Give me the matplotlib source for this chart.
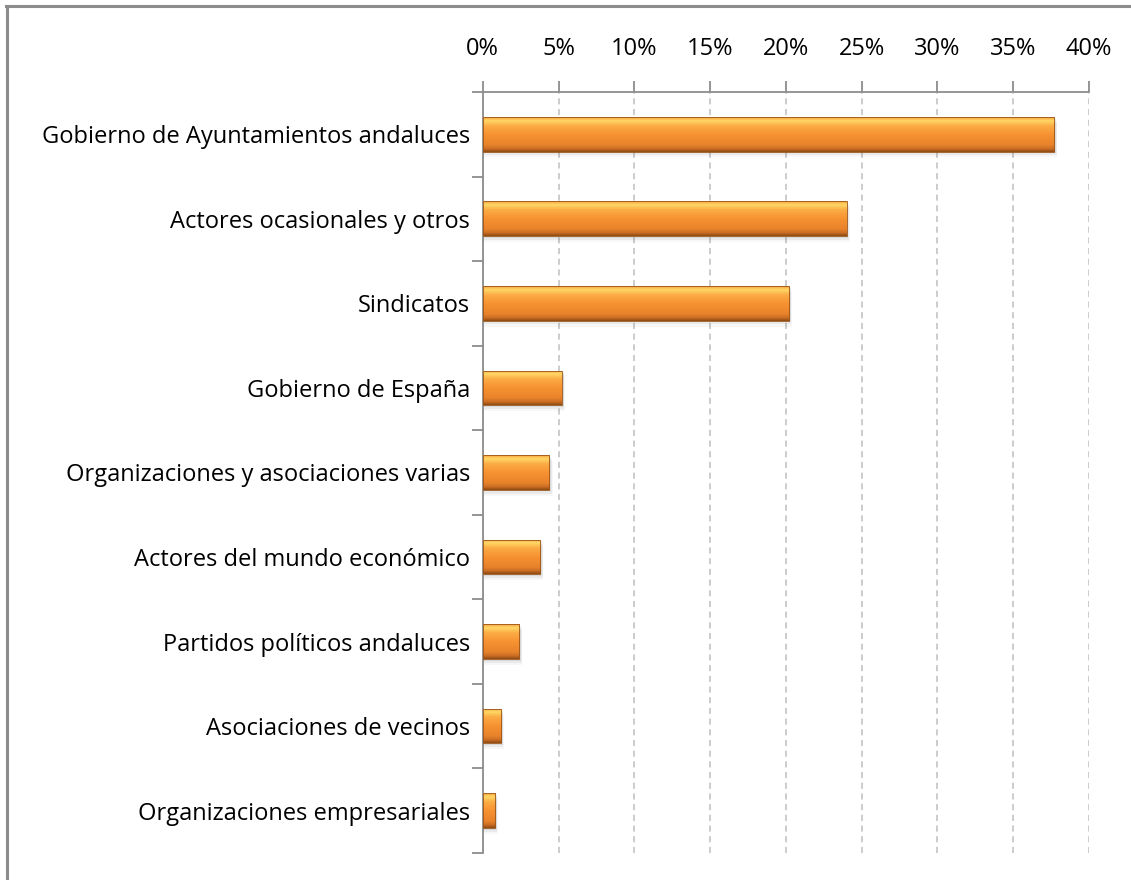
import matplotlib.pyplot as plt
import numpy as np
from matplotlib.colors import LinearSegmentedColormap
from matplotlib.lines import Line2D
from matplotlib.patches import Rectangle
from matplotlib.ticker import FuncFormatter, MultipleLocator

categories = [
    "Gobierno de Ayuntamientos andaluces",
    "Actores ocasionales y otros",
    "Sindicatos",
    "Gobierno de España",
    "Organizaciones y asociaciones varias",
    "Actores del mundo económico",
    "Partidos políticos andaluces",
    "Asociaciones de vecinos",
    "Organizaciones empresariales",
]
values = [37.7, 24.0, 20.2, 5.2, 4.4, 3.8, 2.4, 1.2, 0.8]

plt.rcParams["font.family"] = ["Open Sans", "DejaVu Sans"]

fig = plt.figure(figsize=(11.31, 8.80), dpi=100)
ax = fig.add_axes([0.4268, 0.0307, 0.5361, 0.8648])

# chart border: only the top and left edges show (picture is cropped)
fig.lines.append(Line2D([0.0062, 0.0062], [0.0, 0.9932], transform=fig.transFigure,
                        color="#8c8c8c", linewidth=2.2))
fig.lines.append(Line2D([0.0053, 1.0], [0.9932, 0.9932], transform=fig.transFigure,
                        color="#8c8c8c", linewidth=2.2))

n = len(categories)
y = np.arange(n)
height = 0.41

# vertical gradient imitating the bevelled orange bars
cmap = LinearSegmentedColormap.from_list(
    "bevel", [(0.0, "#f9a441"), (0.1, "#ffd866"), (0.25, "#fbab45"), (0.5, "#f79232"),
              (0.8, "#e8832b"), (0.92, "#c86b22"), (1.0, "#8f4c14")])
grad = np.linspace(0, 1, 80).reshape(-1, 1)

for yi, v in zip(y, values):
    # soft shadow below/right of the bar
    for k, a in enumerate([0.07, 0.05, 0.03]):
        d = 0.02 + 0.025 * k
        ax.add_patch(Rectangle((0.05, yi - height / 2 + d), v + 0.08 + 0.04 * k, height,
                               facecolor="#000000", alpha=a, edgecolor="none", zorder=2))
    bar = Rectangle((0, yi - height / 2), v, height, facecolor="none",
                    edgecolor="#9a5418", linewidth=0.6, zorder=4)
    ax.add_patch(bar)
    im = ax.imshow(grad, cmap=cmap, aspect="auto",
                   extent=(0, v, yi + height / 2, yi - height / 2), zorder=3)
    im.set_clip_path(bar)

ax.set_xlim(0, 40)
ax.set_ylim(n - 0.5, -0.5)
ax.xaxis.set_major_locator(MultipleLocator(5))
ax.xaxis.set_major_formatter(FuncFormatter(lambda x, _: f"{x:.0f}%"))
ax.xaxis.tick_top()
ax.set_yticks(y)
ax.set_yticklabels(categories)
ax.set_yticks(np.arange(n + 1) - 0.5, minor=True)

ax.grid(axis="x", color="#bfbfbf", linestyle=(0, (4, 3)), linewidth=1.1, zorder=0)
ax.set_axisbelow(True)

for s in ["right", "bottom"]:
    ax.spines[s].set_visible(False)
for s in ["left", "top"]:
    ax.spines[s].set_color("#8c8c8c")
    ax.spines[s].set_linewidth(1.3)

ax.tick_params(axis="y", which="major", length=0, pad=9, labelsize=17, colors="black")
ax.tick_params(axis="y", which="minor", length=8, width=1.3, color="#8c8c8c")
ax.tick_params(axis="x", which="major", length=8, width=1.3, color="#8c8c8c",
               labelsize=17, pad=14)

fig.savefig("out.png", dpi=100)
